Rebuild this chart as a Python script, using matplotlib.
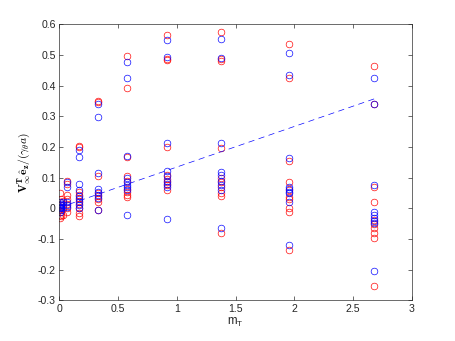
import matplotlib
matplotlib.use('Agg')
import matplotlib.pyplot as plt
import numpy as np

# m_T values (one column of points each) and the two point sets
mT = [0.005, 0.02, 0.035, 0.07, 0.17, 0.334, 0.58, 0.92, 1.376, 1.954, 2.68]
red_vals = [
  [0.05, 0.02, 0.0, -0.02, -0.03],
  [0.03, 0.01, -0.01, -0.025],
  [0.025, 0.0, -0.02],
  [0.09, 0.08, 0.045, 0.03, 0.015, 0.0, -0.01],
  [0.205, 0.2, 0.055, 0.045, 0.035, 0.025, 0.015, 0.0, -0.015, -0.025],
  [0.352, 0.347, 0.105, 0.05, 0.04, 0.03, 0.02, -0.005],
  [0.497, 0.392, 0.168, 0.105, 0.09, 0.065, 0.055, 0.045, 0.038],
  [0.566, 0.487, 0.483, 0.202, 0.11, 0.095, 0.085, 0.075, 0.06],
  [0.575, 0.487, 0.48, 0.197, 0.1, 0.087, 0.07, 0.05, 0.041, -0.08],
  [0.535, 0.426, 0.156, 0.087, 0.06, 0.039, 0.03, 0.002, -0.01, -0.135],
  [0.464, 0.34, 0.069, 0.02, -0.037, -0.05, -0.065, -0.08, -0.096, -0.253],
]
blue_vals = [
  [0.02, 0.01, 0.005, 0.0, -0.01],
  [0.015, 0.005, 0.0, -0.005],
  [0.02, 0.01],
  [0.085, 0.07, 0.02, 0.01, 0.005],
  [0.19, 0.168, 0.08, 0.06, 0.04, 0.03, 0.02, 0.01, 0.0],
  [0.34, 0.298, 0.115, 0.065, 0.055, 0.045, 0.035, -0.005],
  [0.478, 0.425, 0.172, 0.1, 0.085, 0.078, 0.07, 0.06, -0.021],
  [0.549, 0.493, 0.213, 0.122, 0.105, 0.09, 0.08, 0.07, -0.034],
  [0.552, 0.491, 0.213, 0.12, 0.109, 0.09, 0.075, 0.06, -0.065],
  [0.506, 0.434, 0.164, 0.071, 0.064, 0.055, 0.05, 0.02, -0.119],
  [0.427, 0.342, 0.077, -0.01, -0.02, -0.03, -0.04, -0.048, -0.203],
]
fit_slope = 0.1325
fit_intercept = 0.0025
fit_range = [0.0, 2.68]

plt.rcParams['font.family'] = ['Liberation Sans', 'DejaVu Sans']
plt.rcParams['axes.unicode_minus'] = False
plt.rcParams['lines.scale_dashes'] = False

fig = plt.figure(figsize=(455 / 80, 341 / 80), dpi=80)
ax = fig.add_axes([0.1297, 0.1188, 0.7758, 0.8094])

def flatten(vals):
  xs = np.concatenate([[x] * len(v) for x, v in zip(mT, vals)])
  ys = np.concatenate(vals)
  return xs, ys

rx, ry = flatten(red_vals)
bx, by = flatten(blue_vals)
ax.plot(rx, ry, 'o', mfc='none', mec=(1, 0, 0), ms=6, mew=0.6)
ax.plot(bx, by, 'o', mfc='none', mec=(0, 0, 1), ms=6, mew=0.6)

fx = np.array(fit_range)
ax.plot(fx, fit_intercept + fit_slope * fx, color=(0, 0, 1), lw=0.6, dashes=(5.5, 4))

ax.set_xlim(0, 3)
ax.set_ylim(-0.3, 0.6)
ax.set_xticks(np.arange(0, 3.01, 0.5))
ax.set_xticklabels(['0', '0.5', '1', '1.5', '2', '2.5', '3'])
yt = np.round(np.arange(-0.3, 0.61, 0.1), 1)
ax.set_yticks(yt)
ax.set_yticklabels(['0' if v == 0 else f'{v:g}' for v in yt])

edge = (0.15, 0.15, 0.15)
for s in ax.spines.values():
  s.set_color(edge)
  s.set_linewidth(0.6)
ax.tick_params(direction='in', length=3.5, width=0.6, color=edge, labelcolor=edge,
               labelsize=9.5, top=True, right=True, pad=3)

ax.set_xlabel('m$_\\mathregular{T}$', fontsize=10.5, color=edge, labelpad=2)
ax.set_ylabel(r'$\mathbf{V}_{\infty}^{\mathbf{T}}\hat{\mathbf{e}}_{\mathbf{z}}/(\gamma_{\theta} a)$',
              fontsize=10.5, math_fontfamily='cm', labelpad=4)

fig.savefig('out.png', dpi=80)
